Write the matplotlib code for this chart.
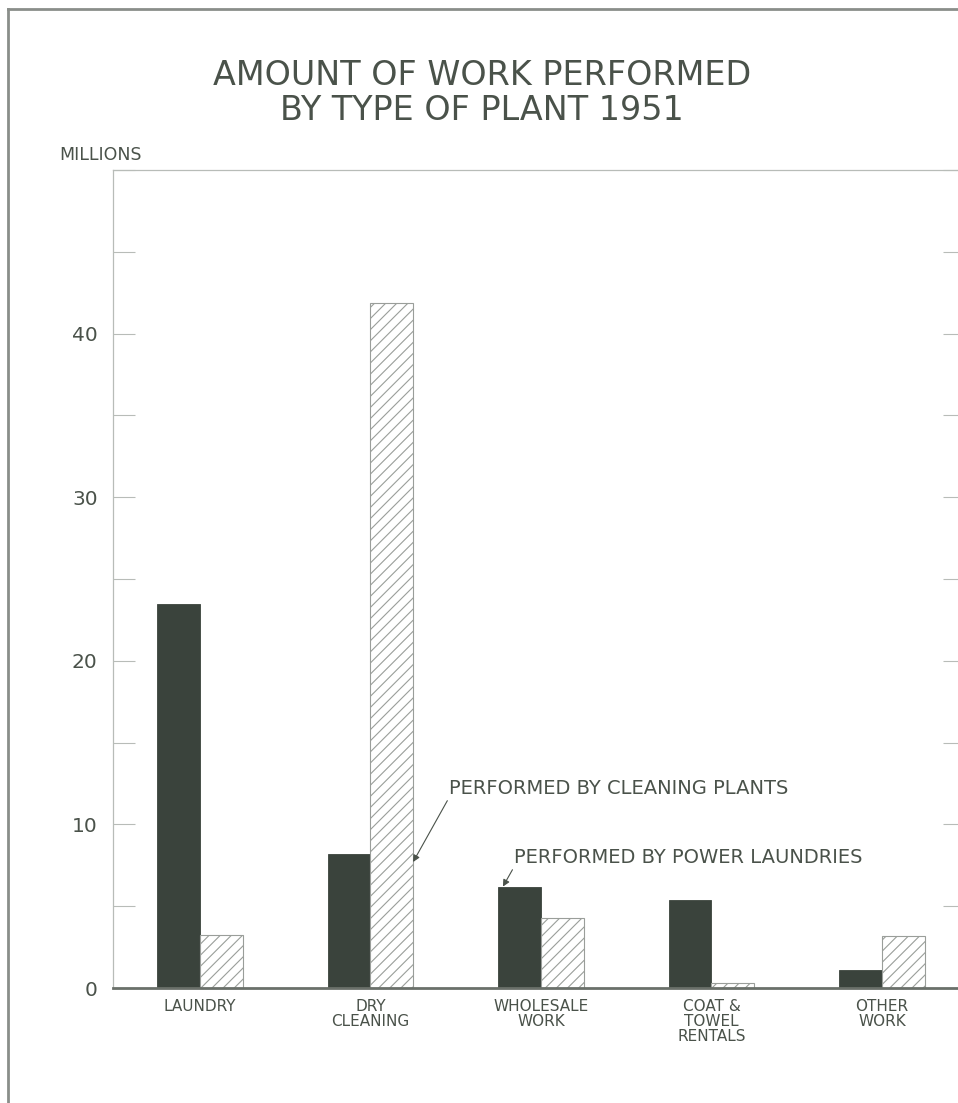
import numpy as np
import matplotlib.pyplot as plt
from matplotlib.lines import Line2D
from matplotlib.ticker import MultipleLocator, FixedLocator

categories = ["LAUNDRY", "DRY\nCLEANING", "WHOLESALE\nWORK", "COAT &\nTOWEL\nRENTALS", "OTHER\nWORK"]
power_laundries = [23.5, 8.2, 6.2, 5.4, 1.1]
cleaning_plants = [3.25, 41.9, 4.3, 0.3, 3.2]
y_ticks = [0, 10, 20, 30, 40]

ink = "#4a524a"
dark = "#3a433c"
grey = "#9a9e9a"

plt.rcParams['font.family'] = ['DejaVu Sans']
plt.rcParams['hatch.linewidth'] = 0.8

fig = plt.figure(figsize=(9.58, 11.03), dpi=100)
ax = fig.add_axes([113/958, 1-988/1103, (965-113)/958, (988-170)/1103])

x = np.arange(len(categories))
w = 0.25
ax.bar(x - w/2, power_laundries, w, color=dark, edgecolor=dark, linewidth=0.6)
ax.bar(x + w/2, cleaning_plants, w, color="white", edgecolor=grey, hatch="///", linewidth=0.8)

ax.set_xlim(-0.51, 4.487)
ax.set_ylim(0, 50)

ax.yaxis.set_major_locator(FixedLocator(y_ticks))
ax.yaxis.set_minor_locator(MultipleLocator(5))
ax.tick_params(axis='y', which='both', direction='in', length=16, width=0.8,
               color="#b8bcb8", right=True, labelsize=14.5, labelcolor=ink, pad=11)
ax.set_xticks(x)
ax.set_xticklabels(categories, fontsize=11, color=ink, linespacing=1.0)
ax.tick_params(axis='x', length=0, pad=8)

for s in ['left', 'top', 'right']:
    ax.spines[s].set_color("#b8bcb8")
    ax.spines[s].set_linewidth(0.9)
ax.spines['bottom'].set_color("#6a706a")
ax.spines['bottom'].set_linewidth(2)

ax.annotate("PERFORMED BY CLEANING PLANTS", xy=(1.25, 7.7), xytext=(1.46, 12.2),
            ha='left', va='center', fontsize=14, color=ink,
            arrowprops=dict(arrowstyle='-|>', color=ink, lw=0.8, relpos=(0, 0),
                            shrinkA=0, shrinkB=0, mutation_scale=10))
ax.annotate("PERFORMED BY POWER LAUNDRIES", xy=(1.777, 6.2), xytext=(1.842, 7.98),
            ha='left', va='center', fontsize=14, color=ink,
            arrowprops=dict(arrowstyle='-|>', color=ink, lw=0.8, relpos=(0, 0),
                            shrinkA=0, shrinkB=0, mutation_scale=10))

fig.text(482/958, 1-93/1103, "AMOUNT OF WORK PERFORMED\nBY TYPE OF PLANT 1951",
         ha='center', va='center', fontsize=24, color=ink, linespacing=1.1)
fig.text(59/958, 1-155/1103, "MILLIONS", ha='left', va='center', fontsize=12.5, color=ink)

# outer frame of the scanned page
fig.add_artist(Line2D([8/958, 8/958], [0, 1-9/1103], color="#8a8e8a", lw=2))
fig.add_artist(Line2D([8/958, 1], [1-9/1103, 1-9/1103], color="#8a8e8a", lw=2))

fig.savefig("out.png", dpi=100)
